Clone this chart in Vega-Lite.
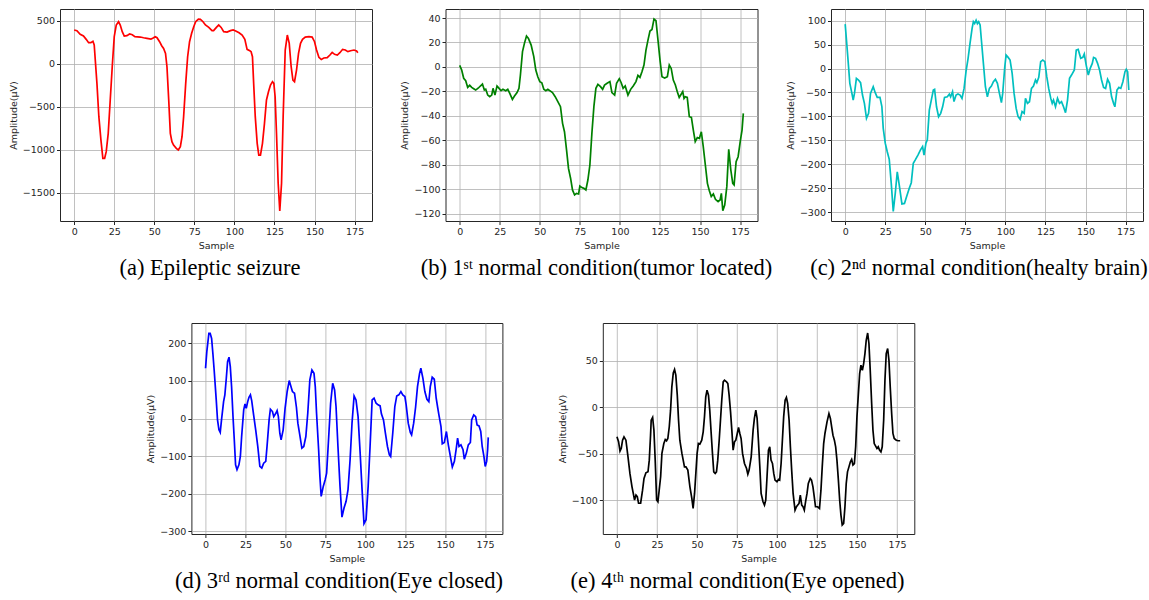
{
  "$schema": "https://vega.github.io/schema/vega-lite/v6.json",
  "background": "white",
  "padding": {"left": 7, "top": 8, "right": 2, "bottom": 2},
  "autosize": {"type": "pad"},
  "config": {
    "view": {"stroke": "#262626", "strokeWidth": 1},
    "axis": {"grid": true, "gridColor": "#b0b0b0", "gridWidth": 0.8, "domain": false, "tickColor": "#262626", "tickSize": 3.5, "labelFont": "DejaVu Sans", "labelFontSize": 9.5, "labelColor": "#262626", "titleFont": "DejaVu Sans", "titleFontSize": 9.5, "titleFontWeight": "normal", "titleColor": "#262626", "labelPadding": 2, "titlePadding": 4},
    "title": {"font": "Liberation Serif", "fontSize": 22.5, "fontWeight": "normal", "orient": "bottom", "anchor": "middle", "color": "#000000", "offset": 7},
    "line": {"strokeWidth": 1.7}
  },
  "datasets": {
    "a": [
      {"s":0,"v":392},{"s":1.7,"v":384},{"s":3.75,"v":341},{"s":5.8,"v":322},{"s":7.5,"v":283},{"s":9,"v":244},{"s":10.4,"v":244},{"s":11.7,"v":260},{"s":12.5,"v":217},{"s":14.2,"v":-229},{"s":15.4,"v":-616},{"s":16.7,"v":-888},{"s":17.9,"v":-1101},{"s":19,"v":-1101},{"s":20,"v":-1023},{"s":21.25,"v":-810},{"s":22.5,"v":-422},{"s":23.75,"v":-35},{"s":25,"v":314},{"s":26.25,"v":450},{"s":27.7,"v":488},{"s":28.75,"v":450},{"s":30,"v":372},{"s":31.25,"v":322},{"s":32.9,"v":326},{"s":34.6,"v":345},{"s":36.25,"v":337},{"s":37.9,"v":314},{"s":41.25,"v":310},{"s":43.3,"v":302},{"s":45.4,"v":295},{"s":47.9,"v":287},{"s":49,"v":295},{"s":50.6,"v":314},{"s":51.7,"v":302},{"s":53.3,"v":256},{"s":54.6,"v":209},{"s":55.8,"v":178},{"s":57,"v":120},{"s":57.9,"v":-35},{"s":59,"v":-422},{"s":60,"v":-810},{"s":61,"v":-907},{"s":62,"v":-946},{"s":63.75,"v":-984},{"s":65,"v":-1004},{"s":66.25,"v":-965},{"s":67.3,"v":-849},{"s":68.3,"v":-616},{"s":69.6,"v":-229},{"s":70.8,"v":81},{"s":72,"v":256},{"s":73.3,"v":353},{"s":74.6,"v":430},{"s":75.8,"v":488},{"s":77.5,"v":519},{"s":78.75,"v":515},{"s":80.4,"v":488},{"s":81.9,"v":450},{"s":84,"v":422},{"s":86,"v":384},{"s":87,"v":384},{"s":88.75,"v":422},{"s":90.2,"v":450},{"s":91.7,"v":422},{"s":93.3,"v":372},{"s":95.4,"v":368},{"s":97.5,"v":384},{"s":99.2,"v":392},{"s":100.8,"v":380},{"s":102.9,"v":360},{"s":104.8,"v":333},{"s":106.5,"v":283},{"s":107.9,"v":167},{"s":109.6,"v":151},{"s":110.4,"v":140},{"s":111.25,"v":81},{"s":112,"v":-229},{"s":113,"v":-616},{"s":114.2,"v":-926},{"s":115.2,"v":-1062},{"s":116.25,"v":-1062},{"s":117.5,"v":-926},{"s":118.75,"v":-694},{"s":120,"v":-422},{"s":121.25,"v":-326},{"s":122.5,"v":-248},{"s":123.75,"v":-209},{"s":124.6,"v":-229},{"s":125.4,"v":-384},{"s":126.25,"v":-810},{"s":127.3,"v":-1391},{"s":128.3,"v":-1713},{"s":129.4,"v":-1391},{"s":130.4,"v":-616},{"s":131.7,"v":159},{"s":133,"v":333},{"s":134.2,"v":236},{"s":135.4,"v":-35},{"s":136.5,"v":-190},{"s":137.5,"v":-209},{"s":138.75,"v":-74},{"s":140,"v":120},{"s":141.25,"v":236},{"s":142.5,"v":283},{"s":144.2,"v":310},{"s":146.5,"v":314},{"s":148.5,"v":310},{"s":150,"v":256},{"s":151.25,"v":159},{"s":152.7,"v":74},{"s":154.2,"v":50},{"s":155.8,"v":66},{"s":157.9,"v":70},{"s":159.6,"v":101},{"s":161,"v":132},{"s":162.5,"v":109},{"s":164.2,"v":101},{"s":165.8,"v":128},{"s":167.5,"v":167},{"s":169.2,"v":159},{"s":170.8,"v":140},{"s":172.5,"v":151},{"s":174.6,"v":159},{"s":176.25,"v":147},{"s":177,"v":128}
    ],
    "b": [
      {"s":0,"v":1.3},{"s":1.25,"v":-2.5},{"s":2.5,"v":-9.3},{"s":3.75,"v":-11.2},{"s":5,"v":-16.7},{"s":6.25,"v":-15},{"s":7.5,"v":-16.7},{"s":8.75,"v":-17.8},{"s":10,"v":-18.9},{"s":11.7,"v":-17.2},{"s":12.9,"v":-15.6},{"s":14.2,"v":-14},{"s":15.4,"v":-18.9},{"s":16.25,"v":-18.3},{"s":17.5,"v":-23},{"s":18.75,"v":-24.3},{"s":20,"v":-23},{"s":20.8,"v":-17.5},{"s":22,"v":-23},{"s":23.3,"v":-15.6},{"s":24.6,"v":-17.5},{"s":25.8,"v":-19.4},{"s":27,"v":-18.3},{"s":28.75,"v":-19.4},{"s":30,"v":-18.3},{"s":31.25,"v":-21.6},{"s":32.9,"v":-26.5},{"s":34.2,"v":-23.8},{"s":35.8,"v":-21},{"s":37,"v":-17.5},{"s":37.9,"v":-6.6},{"s":39.2,"v":12.5},{"s":40.4,"v":19.3},{"s":41.7,"v":25.3},{"s":42.9,"v":23.4},{"s":44.6,"v":17.9},{"s":46.25,"v":8.4},{"s":47.5,"v":-2.5},{"s":48.75,"v":-8},{"s":50,"v":-12},{"s":51.25,"v":-12.9},{"s":52.5,"v":-18.3},{"s":53.75,"v":-19.4},{"s":55,"v":-18.3},{"s":56.25,"v":-19.4},{"s":57.9,"v":-21},{"s":59.6,"v":-24.3},{"s":61.25,"v":-28.4},{"s":62.9,"v":-32.5},{"s":64.2,"v":-46.1},{"s":65.4,"v":-53},{"s":66.7,"v":-68},{"s":67.9,"v":-83},{"s":69.2,"v":-91},{"s":70.4,"v":-100.6},{"s":71.7,"v":-104.7},{"s":72.9,"v":-103.4},{"s":74.2,"v":-103.9},{"s":75,"v":-97.4},{"s":76.25,"v":-98.7},{"s":77.5,"v":-99.3},{"s":78.75,"v":-100.6},{"s":80,"v":-92.5},{"s":81.25,"v":-80.2},{"s":82.5,"v":-54.3},{"s":83.75,"v":-32.5},{"s":85,"v":-17.5},{"s":86.25,"v":-14.2},{"s":87.9,"v":-16.1},{"s":89.2,"v":-18.3},{"s":90.4,"v":-14.8},{"s":92,"v":-13.4},{"s":93.75,"v":-12},{"s":95,"v":-21},{"s":96.7,"v":-23},{"s":97.9,"v":-13.4},{"s":99.6,"v":-9.6},{"s":100.8,"v":-12.9},{"s":102,"v":-17.5},{"s":103.3,"v":-15.6},{"s":105,"v":-23},{"s":106.7,"v":-18.3},{"s":108.3,"v":-15.6},{"s":110,"v":-12},{"s":111.25,"v":-6.9},{"s":112.5,"v":-8.5},{"s":113.75,"v":-3.9},{"s":115,"v":1.6},{"s":116.25,"v":13.8},{"s":117.5,"v":22},{"s":118.75,"v":29.4},{"s":120,"v":30.7},{"s":121.25,"v":39.2},{"s":122.5,"v":37.8},{"s":123.75,"v":22},{"s":125,"v":5.7},{"s":126.25,"v":-8},{"s":127.9,"v":-9},{"s":129.6,"v":-8},{"s":130.8,"v":1.6},{"s":132,"v":-1.2},{"s":133.3,"v":-10.7},{"s":134.6,"v":-14.8},{"s":135.8,"v":-20.2},{"s":137,"v":-24.9},{"s":138.3,"v":-22.1},{"s":139.2,"v":-20.2},{"s":140,"v":-25.7},{"s":140.8,"v":-24.3},{"s":142,"v":-24.9},{"s":143.3,"v":-40.7},{"s":144.6,"v":-41.2},{"s":145.8,"v":-51.6},{"s":147,"v":-61.1},{"s":148.3,"v":-57.8},{"s":149.6,"v":-58.4},{"s":150.8,"v":-53},{"s":152,"v":-65.2},{"s":153.3,"v":-80.2},{"s":154.6,"v":-95.2},{"s":155.8,"v":-101.2},{"s":157,"v":-106},{"s":158.3,"v":-103.9},{"s":159.6,"v":-108.3},{"s":161.25,"v":-110.2},{"s":162.5,"v":-108.8},{"s":163.3,"v":-103.4},{"s":164.2,"v":-117.5},{"s":165.4,"v":-112.9},{"s":166.7,"v":-97.9},{"s":167.9,"v":-67.4},{"s":169.2,"v":-84.3},{"s":170.4,"v":-95.2},{"s":171.25,"v":-96.5},{"s":172.5,"v":-77.5},{"s":173.75,"v":-73.4},{"s":175.2,"v":-59.8},{"s":176.2,"v":-51.6},{"s":177,"v":-38}
    ],
    "c": [
      {"s":0,"v":93},{"s":0.8,"v":59.6},{"s":1.7,"v":21.3},{"s":2.9,"v":-31},{"s":4.2,"v":-52},{"s":5,"v":-65.9},{"s":5.8,"v":-52},{"s":7,"v":-20.6},{"s":8.3,"v":-24},{"s":9.6,"v":-29.6},{"s":10.8,"v":-55.4},{"s":12,"v":-72.8},{"s":13.3,"v":-104},{"s":14.6,"v":-93.7},{"s":15.8,"v":-52},{"s":17.5,"v":-38},{"s":18.75,"v":-50.5},{"s":20,"v":-60.3},{"s":21.7,"v":-60.3},{"s":22.9,"v":-79.8},{"s":23.75,"v":-125},{"s":25,"v":-156},{"s":26.25,"v":-174},{"s":27.5,"v":-190},{"s":28.75,"v":-240},{"s":30,"v":-299},{"s":31.25,"v":-261},{"s":32.5,"v":-216},{"s":33.75,"v":-244},{"s":35.4,"v":-283},{"s":37,"v":-282},{"s":38.3,"v":-268},{"s":40,"v":-250.5},{"s":41.25,"v":-238.7},{"s":42.5,"v":-198},{"s":43.75,"v":-191},{"s":45.4,"v":-181},{"s":47,"v":-170},{"s":48.3,"v":-163},{"s":49.2,"v":-181},{"s":50.4,"v":-156},{"s":51.25,"v":-149},{"s":52.5,"v":-87},{"s":53.75,"v":-66},{"s":55,"v":-45},{"s":55.8,"v":-43.6},{"s":57,"v":-80},{"s":58.3,"v":-100.7},{"s":59.6,"v":-93.7},{"s":60.8,"v":-80},{"s":62,"v":-60.3},{"s":63.75,"v":-59},{"s":65,"v":-53.3},{"s":65.8,"v":-59},{"s":67,"v":-48.4},{"s":67.9,"v":-69},{"s":69.2,"v":-55.4},{"s":70.4,"v":-53.3},{"s":71.7,"v":-55.4},{"s":72.9,"v":-62.4},{"s":74.2,"v":-41.5},{"s":75.4,"v":-6.6},{"s":76.7,"v":21.3},{"s":77.9,"v":52.6},{"s":79.2,"v":84},{"s":80,"v":98},{"s":80.8,"v":94},{"s":81.7,"v":101},{"s":82.5,"v":94},{"s":83.3,"v":98},{"s":84.2,"v":91},{"s":85,"v":59.6},{"s":86.25,"v":10.8},{"s":87.5,"v":-38},{"s":88.75,"v":-59},{"s":90,"v":-41.5},{"s":91.25,"v":-36.6},{"s":92.5,"v":-27.5},{"s":93.75,"v":-22.6},{"s":95,"v":-31},{"s":96.25,"v":-52},{"s":97.5,"v":-71.4},{"s":98.3,"v":-52},{"s":99.6,"v":3.8},{"s":100.4,"v":28.2},{"s":101.7,"v":23.3},{"s":102.9,"v":17.8},{"s":104.2,"v":-10},{"s":105.4,"v":-52},{"s":106.7,"v":-83.3},{"s":107.9,"v":-100.7},{"s":109.2,"v":-106.3},{"s":110.4,"v":-90},{"s":111.7,"v":-93.7},{"s":112.5,"v":-62.4},{"s":113.75,"v":-72.8},{"s":115,"v":-69.3},{"s":116.25,"v":-41.5},{"s":117.5,"v":-36.6},{"s":118.75,"v":-24},{"s":119.6,"v":-29.6},{"s":120.8,"v":-18.5},{"s":122,"v":14.3},{"s":123.3,"v":17.8},{"s":124.6,"v":14.3},{"s":125.8,"v":-17},{"s":127,"v":-41.5},{"s":128.3,"v":-62.4},{"s":129.2,"v":-72.8},{"s":130,"v":-65.9},{"s":131.25,"v":-80},{"s":132.5,"v":-62.4},{"s":133.75,"v":-72.8},{"s":135,"v":-69.3},{"s":136.25,"v":-80},{"s":137.5,"v":-92.3},{"s":138.75,"v":-65.9},{"s":140,"v":-20.6},{"s":141.25,"v":-13.6},{"s":143,"v":-3.1},{"s":144.2,"v":38.7},{"s":145.4,"v":40},{"s":147,"v":21.3},{"s":148.3,"v":23.3},{"s":149.2,"v":30.3},{"s":150.4,"v":7.3},{"s":151.7,"v":-13.6},{"s":152.9,"v":0.3},{"s":154.2,"v":10.8},{"s":155,"v":23.3},{"s":156.25,"v":21.3},{"s":157.5,"v":10.8},{"s":158.75,"v":-3.1},{"s":160,"v":-24},{"s":161.25,"v":-39.4},{"s":162.5,"v":-41.5},{"s":163.75,"v":-22.6},{"s":165,"v":-31},{"s":166.25,"v":-59},{"s":167.5,"v":-72.8},{"s":168.3,"v":-80},{"s":169.6,"v":-45},{"s":170.8,"v":-39.4},{"s":172,"v":-41.5},{"s":173.3,"v":-27.5},{"s":174.6,"v":-6.6},{"s":175.4,"v":-1.7},{"s":176.25,"v":-6.6},{"s":177,"v":-45}
    ],
    "d": [
      {"s":0,"v":133.6},{"s":0.8,"v":178},{"s":2.1,"v":226.5},{"s":2.9,"v":226.5},{"s":3.8,"v":213},{"s":4.6,"v":173},{"s":5.4,"v":129},{"s":6.7,"v":49.6},{"s":7.5,"v":-3.5},{"s":8.4,"v":-30},{"s":9.2,"v":-37},{"s":10,"v":-3.5},{"s":11.3,"v":45},{"s":12.1,"v":63},{"s":13,"v":107},{"s":13.8,"v":151},{"s":14.7,"v":163},{"s":15.5,"v":138},{"s":16.3,"v":85},{"s":17.2,"v":5},{"s":18,"v":-56.6},{"s":18.8,"v":-123},{"s":19.7,"v":-136},{"s":20.9,"v":-123},{"s":21.8,"v":-101},{"s":22.6,"v":-47.8},{"s":23.9,"v":23},{"s":24.7,"v":39},{"s":25.5,"v":27.4},{"s":26.4,"v":45},{"s":27.2,"v":56.6},{"s":28.1,"v":63},{"s":28.9,"v":47.8},{"s":30.1,"v":9.7},{"s":31.4,"v":-30},{"s":32.7,"v":-74},{"s":34,"v":-127.4},{"s":35.2,"v":-131.9},{"s":36.4,"v":-118.6},{"s":37.7,"v":-114},{"s":38.5,"v":-74},{"s":39.8,"v":-3.5},{"s":40.6,"v":24.8},{"s":41.9,"v":18.6},{"s":42.7,"v":5},{"s":44,"v":14},{"s":44.8,"v":21},{"s":45.6,"v":5},{"s":46.5,"v":-39},{"s":47.3,"v":-56.6},{"s":48.6,"v":-30},{"s":49.8,"v":27.4},{"s":51.1,"v":71.7},{"s":52.4,"v":101},{"s":53.2,"v":89.4},{"s":54.4,"v":71.7},{"s":55.7,"v":67.3},{"s":56.9,"v":30},{"s":57.8,"v":-12.4},{"s":59,"v":-43.4},{"s":60.3,"v":-78.8},{"s":61.5,"v":-74.3},{"s":62.8,"v":-47.8},{"s":64,"v":14},{"s":65.3,"v":102.7},{"s":66.6,"v":129},{"s":67.9,"v":120},{"s":68.7,"v":85},{"s":69.5,"v":14},{"s":70.8,"v":-83},{"s":71.6,"v":-154},{"s":72.4,"v":-207},{"s":73.7,"v":-180.5},{"s":74.9,"v":-162.8},{"s":75.8,"v":-145},{"s":77,"v":-56.6},{"s":78.3,"v":40.7},{"s":79.6,"v":93.8},{"s":80.8,"v":76},{"s":81.7,"v":32},{"s":82.9,"v":-74.3},{"s":84.2,"v":-180.5},{"s":85.4,"v":-262},{"s":86.7,"v":-238},{"s":88,"v":-220},{"s":89.2,"v":-189},{"s":90.5,"v":-109.7},{"s":91.7,"v":-12.4},{"s":93,"v":60},{"s":94.2,"v":49.6},{"s":95.5,"v":5},{"s":96.8,"v":-92},{"s":98,"v":-189},{"s":99.2,"v":-279.6},{"s":100.5,"v":-269},{"s":101.8,"v":-180.5},{"s":103,"v":-74.3},{"s":104.3,"v":49.6},{"s":105.5,"v":54},{"s":106.8,"v":40.7},{"s":108,"v":36.3},{"s":109.3,"v":33.6},{"s":110.1,"v":12.4},{"s":111.4,"v":-3.5},{"s":112.6,"v":-39},{"s":113.9,"v":-74.3},{"s":115.1,"v":-96.5},{"s":115.9,"v":-101},{"s":117.2,"v":-39},{"s":118.5,"v":32},{"s":119.7,"v":60},{"s":121,"v":63},{"s":122.3,"v":71.7},{"s":123.5,"v":63},{"s":124.8,"v":58.4},{"s":125.6,"v":36.3},{"s":126.9,"v":-12.4},{"s":128.2,"v":-37},{"s":129,"v":-43.4},{"s":130.3,"v":-12.4},{"s":131.5,"v":30},{"s":132.7,"v":85},{"s":134,"v":120},{"s":134.8,"v":133.6},{"s":136.1,"v":107},{"s":137.3,"v":71.7},{"s":138.6,"v":51.3},{"s":139.8,"v":45},{"s":140.7,"v":85},{"s":141.9,"v":109.7},{"s":143.2,"v":104.4},{"s":144.4,"v":54},{"s":145.3,"v":30},{"s":146.1,"v":9.7},{"s":147.4,"v":-21.2},{"s":148.2,"v":-67.3},{"s":149.5,"v":-63.7},{"s":150.8,"v":-34.5},{"s":152,"v":-70},{"s":153.3,"v":-101},{"s":154.5,"v":-129},{"s":155.8,"v":-114},{"s":157,"v":-78.8},{"s":157.8,"v":-52.2},{"s":158.7,"v":-74.3},{"s":159.9,"v":-70},{"s":161.2,"v":-83},{"s":162,"v":-108},{"s":163.3,"v":-92},{"s":164.5,"v":-70},{"s":165.8,"v":-63.7},{"s":166.6,"v":-3.5},{"s":167.9,"v":9.7},{"s":169.1,"v":5},{"s":170,"v":-17},{"s":171.2,"v":-19.5},{"s":172.3,"v":-34.5},{"s":173.2,"v":-74.3},{"s":174.3,"v":-101},{"s":175.1,"v":-127.4},{"s":176,"v":-114},{"s":176.6,"v":-83},{"s":177,"v":-50}
    ],
    "e": [
      {"s":0,"v":-31.8},{"s":1,"v":-37},{"s":1.9,"v":-47},{"s":2.7,"v":-44},{"s":3.5,"v":-35.4},{"s":4.4,"v":-31.8},{"s":5.6,"v":-35.4},{"s":6.9,"v":-53.2},{"s":8.1,"v":-71},{"s":9.4,"v":-85.4},{"s":10.2,"v":-92.5},{"s":11,"v":-99.6},{"s":11.9,"v":-94.3},{"s":12.7,"v":-96},{"s":13.5,"v":-103},{"s":14.8,"v":-103},{"s":16,"v":-89},{"s":16.9,"v":-76.4},{"s":18.1,"v":-70.4},{"s":19.4,"v":-69.3},{"s":20.2,"v":-56.8},{"s":21,"v":-30},{"s":21.4,"v":-14},{"s":22.3,"v":-11},{"s":23.1,"v":-24.6},{"s":23.9,"v":-56.8},{"s":24.8,"v":-99.6},{"s":25.6,"v":-101.4},{"s":26.4,"v":-89},{"s":27.3,"v":-74.6},{"s":28.1,"v":-49.6},{"s":29.3,"v":-39},{"s":30.2,"v":-34.6},{"s":31,"v":-36},{"s":31.8,"v":-33.6},{"s":32.7,"v":-21},{"s":33.5,"v":-3.2},{"s":34.3,"v":21.8},{"s":35.2,"v":36.8},{"s":36,"v":40.4},{"s":36.8,"v":34.3},{"s":37.7,"v":12.9},{"s":38.5,"v":-14},{"s":39.3,"v":-35.4},{"s":40.6,"v":-49.6},{"s":41.4,"v":-56.8},{"s":42.2,"v":-64},{"s":43.1,"v":-64},{"s":44.3,"v":-67.5},{"s":45.6,"v":-85.4},{"s":46.8,"v":-97.9},{"s":47.6,"v":-108.6},{"s":48.5,"v":-92.5},{"s":49.3,"v":-71},{"s":50.1,"v":-49.6},{"s":50.9,"v":-39},{"s":51.8,"v":-39.6},{"s":53,"v":-35.4},{"s":53.9,"v":-26.4},{"s":54.7,"v":-10.4},{"s":55.5,"v":11},{"s":56.3,"v":18.2},{"s":57.2,"v":12.9},{"s":58,"v":-3.2},{"s":58.9,"v":-28.2},{"s":59.7,"v":-49.6},{"s":60.5,"v":-69.3},{"s":61.4,"v":-71},{"s":62.2,"v":-69.3},{"s":63,"v":-56.8},{"s":63.9,"v":-35.4},{"s":64.7,"v":-14},{"s":65.5,"v":7.5},{"s":66.4,"v":27.1},{"s":67.2,"v":29},{"s":68.5,"v":27.1},{"s":69.3,"v":25.4},{"s":70.1,"v":12.9},{"s":71,"v":-5},{"s":71.8,"v":-24.6},{"s":72.6,"v":-46},{"s":73.5,"v":-37},{"s":74.3,"v":-35.4},{"s":75.2,"v":-28.2},{"s":76,"v":-21.8},{"s":76.8,"v":-28.2},{"s":77.6,"v":-33.6},{"s":78.5,"v":-49.6},{"s":79.7,"v":-60.4},{"s":81,"v":-65.7},{"s":81.8,"v":-71.8},{"s":82.6,"v":-67.5},{"s":83.9,"v":-53.2},{"s":85.1,"v":-24.6},{"s":85.9,"v":-12},{"s":86.8,"v":-3.2},{"s":87.6,"v":-12},{"s":88.4,"v":-35.4},{"s":89.3,"v":-64},{"s":90.1,"v":-92.5},{"s":91.3,"v":-101.4},{"s":92.2,"v":-105},{"s":93,"v":-99.6},{"s":93.8,"v":-74.6},{"s":94.7,"v":-46},{"s":95.5,"v":-42.5},{"s":96.3,"v":-56.8},{"s":97.2,"v":-60.4},{"s":98,"v":-71},{"s":98.8,"v":-78.2},{"s":100,"v":-80},{"s":101,"v":-77.5},{"s":101.7,"v":-78.2},{"s":102.6,"v":-60.4},{"s":103.4,"v":-35.4},{"s":104.2,"v":-10.4},{"s":105.1,"v":7.5},{"s":105.9,"v":10.4},{"s":106.7,"v":4},{"s":107.6,"v":-14},{"s":108.4,"v":-42.5},{"s":109.2,"v":-67.5},{"s":110.1,"v":-92.5},{"s":111.3,"v":-110.4},{"s":112.2,"v":-106.8},{"s":113,"v":-105},{"s":113.8,"v":-103.2},{"s":114.6,"v":-94.3},{"s":115.5,"v":-105},{"s":116.3,"v":-106.8},{"s":117.1,"v":-110.4},{"s":117.9,"v":-101.4},{"s":118.8,"v":-92.5},{"s":119.6,"v":-81.8},{"s":120.8,"v":-76.4},{"s":121.6,"v":-78.2},{"s":122.5,"v":-85.4},{"s":123.3,"v":-96},{"s":124.1,"v":-106.8},{"s":125.4,"v":-106.8},{"s":126.6,"v":-108.6},{"s":127.5,"v":-89},{"s":128.3,"v":-64},{"s":129.2,"v":-39},{"s":130,"v":-28.2},{"s":131.3,"v":-15.7},{"s":132.5,"v":-6.8},{"s":133.4,"v":-12},{"s":134.2,"v":-21},{"s":135,"v":-30},{"s":135.9,"v":-35.4},{"s":136.7,"v":-42.5},{"s":137.5,"v":-56.8},{"s":138.4,"v":-78.2},{"s":139.2,"v":-99.6},{"s":140,"v":-115.7},{"s":140.8,"v":-126.4},{"s":141.7,"v":-124.6},{"s":142.5,"v":-106.8},{"s":143.3,"v":-81.8},{"s":144.1,"v":-69.3},{"s":145,"v":-64},{"s":145.9,"v":-58.6},{"s":146.7,"v":-56},{"s":147.5,"v":-62},{"s":148.4,"v":-60.4},{"s":149.2,"v":-42.5},{"s":150,"v":-10.4},{"s":150.9,"v":14.6},{"s":151.7,"v":36},{"s":152.5,"v":45},{"s":153.4,"v":39.6},{"s":154.2,"v":46.8},{"s":155,"v":57.5},{"s":155.8,"v":71.8},{"s":156.7,"v":79.6},{"s":157.5,"v":68.2},{"s":158.3,"v":39.6},{"s":159.2,"v":4},{"s":160,"v":-24.6},{"s":160.8,"v":-39},{"s":161.7,"v":-41.8},{"s":162.5,"v":-44.3},{"s":163.3,"v":-42.5},{"s":164.1,"v":-46},{"s":165,"v":-47.9},{"s":165.8,"v":-42.5},{"s":166.7,"v":-14},{"s":167.5,"v":29},{"s":168.3,"v":57.5},{"s":169.2,"v":62.9},{"s":170,"v":50.4},{"s":170.8,"v":21.8},{"s":171.7,"v":-6.8},{"s":172.5,"v":-28.2},{"s":173.3,"v":-33.6},{"s":174.6,"v":-35.4},{"s":175.8,"v":-36},{"s":177,"v":-36}
    ]
  },
  "spacing": 314,
  "bounds": "flush",
  "vconcat": [
    {
      "spacing": 73.5,
      "bounds": "flush",
      "hconcat": [
        {
          "width": 312, "height": 212,
          "title": {"text": "(a) Epileptic seizure", "dx": -6},
          "data": {"name": "a"},
          "mark": {"type": "line", "color": "#ff0000"},
          "encoding": {
            "x": {"field": "s", "type": "quantitative", "title": "Sample", "scale": {"domain": [-8.85, 185.85], "nice": false, "zero": false}, "axis": {"values": [0, 25, 50, 75, 100, 125, 150, 175], "format": "d"}},
            "y": {"field": "v", "type": "quantitative", "title": "Amplitude(µV)", "scale": {"domain": [-1829, 636], "nice": false, "zero": false}, "axis": {"values": [-1500, -1000, -500, 0, 500], "format": "d"}}
          }
        },
        {
          "width": 312, "height": 212,
          "title": {"text": "(b) 1ˢᵗ normal condition(tumor located)", "dx": -5},
          "data": {"name": "b"},
          "mark": {"type": "line", "color": "#008000"},
          "encoding": {
            "x": {"field": "s", "type": "quantitative", "title": "Sample", "scale": {"domain": [-8.85, 185.85], "nice": false, "zero": false}, "axis": {"values": [0, 25, 50, 75, 100, 125, 150, 175], "format": "d"}},
            "y": {"field": "v", "type": "quantitative", "title": "Amplitude(µV)", "scale": {"domain": [-126, 47.4], "nice": false, "zero": false}, "axis": {"values": [-120, -100, -80, -60, -40, -20, 0, 20, 40], "format": "d"}}
          }
        },
        {
          "width": 312, "height": 212,
          "title": {"text": "(c) 2ⁿᵈ normal condition(healty brain)", "dx": -8},
          "data": {"name": "c"},
          "mark": {"type": "line", "color": "#00bfbf"},
          "encoding": {
            "x": {"field": "s", "type": "quantitative", "title": "Sample", "scale": {"domain": [-8.85, 185.85], "nice": false, "zero": false}, "axis": {"values": [0, 25, 50, 75, 100, 125, 150, 175], "format": "d"}},
            "y": {"field": "v", "type": "quantitative", "title": "Amplitude(µV)", "scale": {"domain": [-318.8, 124.5], "nice": false, "zero": false}, "axis": {"values": [-300, -250, -200, -150, -100, -50, 0, 50, 100], "format": "d"}}
          }
        }
      ]
    },
    {
      "spacing": 100.4,
      "bounds": "flush",
      "hconcat": [
        {
          "width": 31, "height": 211,
          "view": {"stroke": null},
          "data": {"values": [{"k": 1}]},
          "mark": {"type": "point", "opacity": 0},
          "encoding": {}
        },
        {
          "width": 311, "height": 211,
          "title": {"text": "(d) 3ʳᵈ normal condition(Eye closed)", "dx": -8},
          "data": {"name": "d"},
          "mark": {"type": "line", "color": "#0000ff"},
          "encoding": {
            "x": {"field": "s", "type": "quantitative", "title": "Sample", "scale": {"domain": [-8.85, 185.85], "nice": false, "zero": false}, "axis": {"values": [0, 25, 50, 75, 100, 125, 150, 175], "format": "d"}},
            "y": {"field": "v", "type": "quantitative", "title": "Amplitude(µV)", "scale": {"domain": [-307, 254], "nice": false, "zero": false}, "axis": {"values": [-300, -200, -100, 0, 100, 200], "format": "d"}}
          }
        },
        {
          "width": 311.5, "height": 211,
          "title": {"text": "(e) 4ᵗʰ  normal condition(Eye opened)", "dx": -21},
          "data": {"name": "e"},
          "mark": {"type": "line", "color": "#000000"},
          "encoding": {
            "x": {"field": "s", "type": "quantitative", "title": "Sample", "scale": {"domain": [-8.85, 185.85], "nice": false, "zero": false}, "axis": {"values": [0, 25, 50, 75, 100, 125, 150, 175], "format": "d"}},
            "y": {"field": "v", "type": "quantitative", "title": "Amplitude(µV)", "scale": {"domain": [-136, 90.3], "nice": false, "zero": false}, "axis": {"values": [-100, -50, 0, 50], "format": "d"}}
          }
        }
      ]
    }
  ]
}
